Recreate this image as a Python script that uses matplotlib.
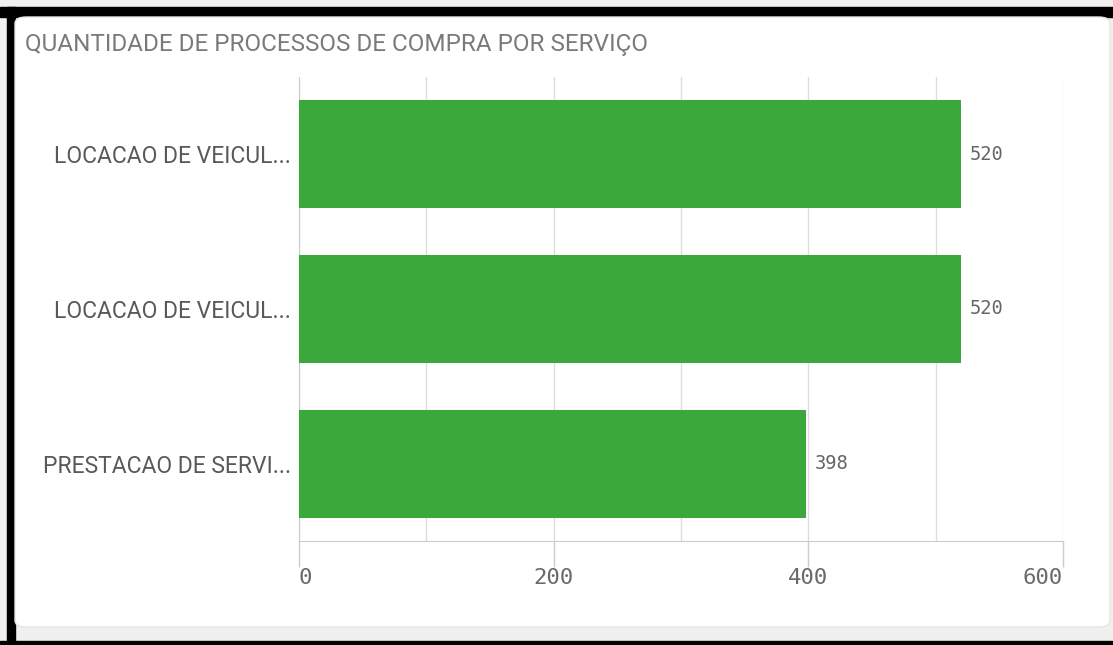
import matplotlib.pyplot as plt
from matplotlib.patches import Rectangle, FancyBboxPatch

categories = ["LOCACAO DE VEICUL...", "LOCACAO DE VEICUL...", "PRESTACAO DE SERVI..."]
values = [520, 520, 398]
ticks = [0, 200, 400, 600]
minor_ticks = [100, 300, 500]
title = "QUANTIDADE DE PROCESSOS DE COMPRA POR SERVIÇO"

W, H = 1113, 645
fig = plt.figure(figsize=(W / 100, H / 100), dpi=100)
fig.patch.set_facecolor("white")

def fx(x):
    return x / W

def fy(y):
    return 1 - y / H

# screenshot frame: black border, grey strip at the bottom, card
fig.add_artist(Rectangle((0, 0), 1, 1, transform=fig.transFigure, color="#f0f0f0", zorder=0))
fig.add_artist(Rectangle((0, fy(17)), 1, (17 - 7) / H, transform=fig.transFigure, color="black", zorder=1))
fig.add_artist(Rectangle((fx(7), 0), 8 / W, fy(7), transform=fig.transFigure, color="black", zorder=1))
fig.add_artist(Rectangle((0, 0), 1, 4 / H, transform=fig.transFigure, color="black", zorder=1))
fig.add_artist(FancyBboxPatch((fx(15), fy(627)), fx(1110) - fx(15), fy(17) - fy(627),
                              boxstyle="round,pad=0,rounding_size=0.01",
                              transform=fig.transFigure, facecolor="white", edgecolor="#e6e6e6",
                              lw=1, zorder=1))

fig.text(fx(25), fy(45), title, fontsize=17.5, color="#7a7a7a", family="Roboto",
         va="center", ha="left", zorder=3)

ax = fig.add_axes([fx(299), fy(541), fx(1063) - fx(299), (541 - 77) / H])
ax.set_zorder(2)
ax.set_facecolor("none")
ypos = list(range(len(categories)))
ax.barh(ypos, values, height=0.7, color="#3aa83a", zorder=3)
ax.set_xlim(0, 600)
ax.set_ylim(len(categories) - 0.5, -0.5)

for y, v in zip(ypos, values):
    ax.text(v + 7, y, str(v), va="center", ha="left", fontsize=13.5,
            family="DejaVu Sans Mono", color="#666666")

ax.set_yticks(ypos)
ax.set_yticklabels(categories, fontsize=16.5, color="#595959", family="Roboto")
ax.tick_params(axis="y", length=0, pad=6)

ax.set_xticks(ticks)
ax.set_xticks(minor_ticks, minor=True)
ax.set_xticklabels([])
ax.tick_params(axis="x", which="major", length=19, color="#cccccc", width=1)
ax.tick_params(axis="x", which="minor", length=0)
ax.grid(axis="x", which="both", color="#dddddd", lw=1, zorder=0)

for i, t in enumerate(ticks):
    ha = "left" if i == 0 else ("right" if i == len(ticks) - 1 else "center")
    ax.text(t, -0.08, str(t), transform=ax.get_xaxis_transform(), ha=ha, va="center",
            fontsize=16, family="DejaVu Sans Mono", color="#6a6a6a")

for s in ["top", "right"]:
    ax.spines[s].set_visible(False)
ax.spines["left"].set_color("#cccccc")
ax.spines["bottom"].set_color("#cccccc")

fig.savefig("out.png", dpi=100)
